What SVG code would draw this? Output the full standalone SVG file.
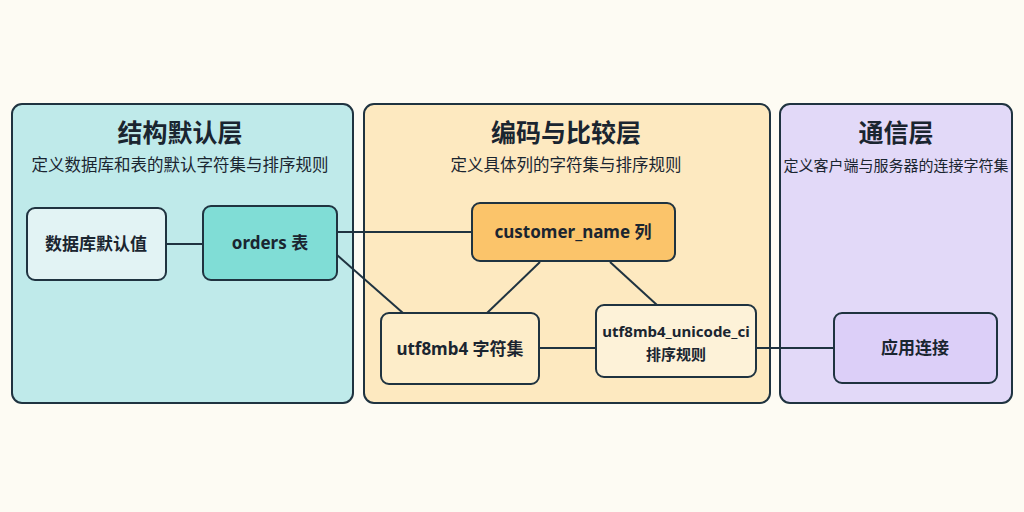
<svg xmlns="http://www.w3.org/2000/svg" width="1024" height="512" viewBox="0 0 1024 512">
<style>
.p{stroke:#1f3340;stroke-width:2}
.n{stroke:#1f3340;stroke-width:2}
.t{font-family:"Noto Sans","Noto Sans CJK SC",sans-serif;fill:#1a2530;text-anchor:middle}
.h{font-size:25px;font-weight:bold}
.s{font-size:16.5px}
.l{font-size:17px;font-weight:bold}
#c line{stroke:#1f3340;stroke-width:2}
</style>
<rect width="1024" height="512" fill="#fdfbf3"/>
<g id="p1"><rect class="p" x="12" y="104" width="341" height="299" rx="10" fill="#bfeaea"/><text class="t h" x="180" y="142">结构默认层</text><text class="t s" x="180" y="171">定义数据库和表的默认字符集与排序规则</text></g>
<g id="p2"><rect class="p" x="364" y="104" width="406" height="299" rx="10" fill="#fde9c0"/><text class="t h" x="566" y="142">编码与比较层</text><text class="t s" x="566" y="171">定义具体列的字符集与排序规则</text></g>
<g id="p3"><rect class="p" x="780" y="104" width="232" height="299" rx="10" fill="#e2d9f8"/><text class="t h" x="896" y="142">通信层</text><text class="t s" x="896" y="171" style="font-size:15px">定义客户端与服务器的连接字符集</text></g>
<g id="c">
<line x1="166" y1="244" x2="203" y2="244"/>
<line x1="337" y1="232" x2="472" y2="232"/>
<line x1="337" y1="255" x2="403" y2="313"/>
<line x1="540" y1="262" x2="487" y2="313"/>
<line x1="610" y1="262" x2="657" y2="305"/>
<line x1="539" y1="348" x2="596" y2="348"/>
<line x1="756" y1="348" x2="834" y2="348"/>
</g>
<g id="n1"><rect class="n" x="27" y="208" width="139" height="72" rx="8" fill="#e2f3f4"/><text class="t l" x="96" y="250">数据库默认值</text></g>
<g id="n2"><rect class="n" x="203" y="206" width="134" height="74" rx="8" fill="#80ddd6"/><text class="t l" x="270" y="249">orders 表</text></g>
<g id="n3"><rect class="n" x="472" y="203" width="203" height="58" rx="8" fill="#fbc46a"/><text class="t l" x="573" y="238">customer_name 列</text></g>
<g id="n4"><rect class="n" x="381" y="313" width="158" height="71" rx="8" fill="#fdedc9"/><text class="t l" x="460" y="355">utf8mb4 字符集</text></g>
<g id="n5"><rect class="n" x="596" y="305" width="160" height="72" rx="8" fill="#fdf2d8"/><text class="t l" x="676" y="337" style="font-size:15px">utf8mb4_unicode_ci</text><text class="t l" x="676" y="360" style="font-size:15px">排序规则</text></g>
<g id="n6"><rect class="n" x="834" y="313" width="163" height="70" rx="8" fill="#dccff8"/><text class="t l" x="915" y="354">应用连接</text></g>
</svg>
